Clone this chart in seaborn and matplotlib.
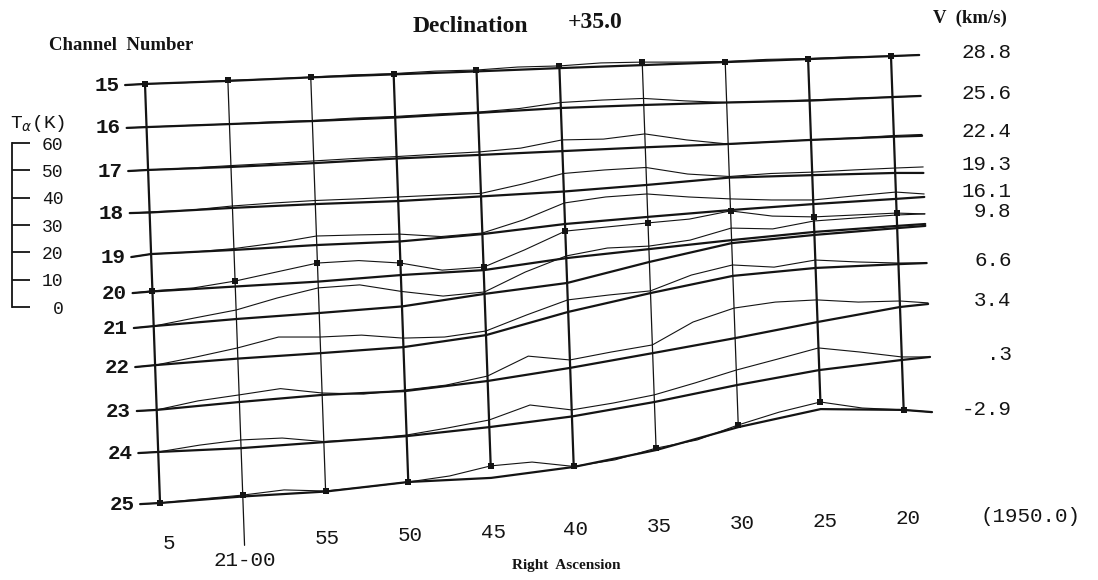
import numpy as np
import pandas as pd
import matplotlib
matplotlib.use('Agg')
import matplotlib.pyplot as plt
import seaborn as sns

# Right ascension read points (minutes after 20h; 65 = 21h05m)
ra_curve = [66.2, 65, 62.5, 60, 57.5, 55, 52.5, 50, 47.5, 45, 42.5, 40,
            37.5, 35, 32.5, 30, 27.5, 25, 22.5, 20, 18.3]
ra_base = [66.2, 65, 60, 55, 50, 45, 40, 35, 30, 25, 20, 18.3]
ra_grid = [65, 60, 55, 50, 45, 40, 35, 30, 25, 20]
ra_labels = ['5', '21-00', '55', '50', '45', '40', '35', '30', '25', '20']

channels = list(range(15, 26))
velocity_labels = ['28.8', '25.6', '22.4', '19.3', '16.1', '', '9.8', '6.6',
                   '3.4', '.3', '-2.9']
t_ticks = [0, 10, 20, 30, 40, 50, 60]

# stacked levels (K) of the baselines and of the profiles, one pair per channel
base_15 = [153.1, 153.5, 154.6, 155.9, 157.0, 158.1, 159.3, 160.4, 161.5, 162.6, 163.7, 164.1]
curve_15 = [153.1, 153.5, 154.0, 154.8, 155.3, 156.0, 156.8, 157.3, 158.2, 158.6, 159.7,
            160.1, 161.2, 161.5, 161.5, 161.7, 162.5, 162.8, 163.4, 163.7, 164.1]
base_16 = [137.4, 137.7, 138.8, 139.9, 141.2, 142.9, 144.7, 145.8, 146.7, 147.4, 148.7, 149.1]
curve_16 = [137.4, 137.7, 138.3, 138.8, 139.6, 140.1, 141.0, 141.6, 142.5, 143.2, 144.5,
            146.7, 147.6, 148.2, 147.3, 146.7, 147.1, 147.6, 148.2, 148.7, 149.1]
base_17 = [121.6, 122.0, 123.1, 124.5, 126.2, 127.5, 128.9, 130.3, 131.5, 133.0, 134.2, 134.5]
curve_17 = [121.6, 122.0, 122.7, 123.6, 124.4, 125.3, 126.2, 126.9, 127.8, 128.6, 130.0,
            133.0, 133.3, 135.2, 133.0, 131.5, 132.2, 133.0, 133.7, 134.6, 135.0]
base_18 = [106.2, 106.4, 108.1, 109.5, 110.6, 112.3, 114.1, 116.5, 119.2, 120.1, 120.9, 120.9]
curve_18 = [106.2, 106.6, 107.3, 108.8, 109.9, 110.8, 111.4, 112.1, 112.8, 113.4, 116.8,
            120.7, 122.0, 122.9, 120.5, 119.6, 120.7, 121.2, 122.0, 122.7, 123.1]
base_19 = [90.1, 91.2, 92.7, 94.5, 95.8, 98.5, 102.2, 104.8, 107.3, 109.5, 111.4, 112.1]
curve_19 = [90.1, 91.2, 91.9, 93.2, 95.2, 97.8, 98.2, 98.5, 97.6, 98.9, 103.7,
            109.9, 112.1, 113.2, 112.1, 111.4, 111.0, 111.0, 112.5, 113.9, 113.2]
base_20 = [76.9, 77.5, 79.3, 81.1, 83.5, 85.3, 89.7, 93.0, 96.3, 99.3, 101.5, 102.2]
curve_20 = [76.9, 77.7, 78.8, 81.3, 84.6, 87.9, 88.8, 87.9, 85.3, 86.4, 92.7,
            99.6, 101.1, 102.6, 104.0, 107.0, 105.1, 104.8, 105.5, 106.2, 105.9]
base_21 = [64.1, 64.8, 67.4, 69.6, 72.0, 76.6, 80.6, 88.3, 95.2, 98.2, 100.7, 101.5]
curve_21 = [64.1, 64.8, 67.8, 70.7, 75.1, 78.8, 79.9, 77.5, 75.8, 77.3, 84.6,
            90.5, 93.4, 94.1, 96.3, 100.7, 100.4, 103.3, 104.4, 105.5, 105.9]
base_22 = [49.8, 50.5, 52.9, 54.9, 57.1, 61.5, 70.0, 76.9, 83.2, 86.1, 87.5, 87.9]
curve_22 = [49.8, 50.5, 53.5, 56.8, 60.8, 60.8, 61.5, 60.4, 60.8, 63.0, 68.9,
            74.4, 76.2, 77.7, 83.5, 87.2, 86.4, 89.0, 88.3, 87.9, 87.9]
base_23 = [33.7, 34.1, 37.0, 39.6, 41.0, 44.7, 49.5, 54.9, 60.4, 66.3, 71.8, 72.9]
curve_23 = [33.7, 34.1, 37.4, 39.6, 41.9, 40.3, 39.9, 41.4, 43.2, 46.5, 53.8,
            52.4, 55.3, 57.9, 66.3, 71.4, 73.6, 74.4, 73.6, 74.0, 73.3]
base_24 = [18.3, 18.7, 20.1, 22.3, 24.5, 27.8, 31.7, 37.0, 43.2, 48.7, 52.4, 53.5]
curve_24 = [18.3, 18.7, 21.2, 23.1, 23.8, 22.5, 23.4, 24.9, 27.5, 30.4, 35.9,
            34.1, 36.6, 39.6, 44.0, 48.7, 52.7, 56.8, 55.3, 53.5, 53.5]
base_25 = [-0.4, 0.0, 2.4, 4.2, 7.7, 9.2, 13.2, 19.4, 27.8, 34.4, 34.1, 33.3]
curve_25 = [-0.4, 0.0, 1.5, 2.9, 4.8, 4.4, 5.9, 7.7, 9.9, 13.6, 15.0,
            13.4, 15.8, 20.1, 23.1, 28.6, 33.3, 37.0, 34.8, 34.1, 33.3]

bases = [base_15, base_16, base_17, base_18, base_19, base_20,
         base_21, base_22, base_23, base_24, base_25]
curves = [curve_15, curve_16, curve_17, curve_18, curve_19, curve_20,
          curve_21, curve_22, curve_23, curve_24, curve_25]

# the stack is drawn slanted: lower rows shift to the right
TOP = 153.5
SKEW = 0.0059


def slant(ra, level):
    return np.asarray(ra, dtype=float) - SKEW * (TOP - np.asarray(level, dtype=float))


rows = []
for ch, b, c in zip(channels, bases, curves):
    for r, v in zip(ra_base, b):
        rows.append(('base', ch, r, v))
    for r, v in zip(ra_curve, c):
        rows.append(('curve', ch, r, v))
df = pd.DataFrame(rows, columns=['kind', 'channel', 'ra', 'level'])
df['x'] = slant(df['ra'], df['level'])

# vertical RA lines from the top profile to the bottom profile
grid_rows = []
mark_rows = []
for r, lab in zip(ra_grid, ra_labels):
    k = ra_curve.index(r)
    top = curve_15[k]
    bottom = curve_25[k] if lab != '21-00' else -15.5
    grid_rows.append((lab, r, top))
    grid_rows.append((lab, r, bottom))
    for lvl in (curve_15[k], curve_20[k], curve_25[k]):
        mark_rows.append((r, lvl))
grid = pd.DataFrame(grid_rows, columns=['label', 'ra', 'level'])
grid['x'] = slant(grid['ra'], grid['level'])
thin = ['21-00', '55', '35', '30']
marks = pd.DataFrame(mark_rows, columns=['ra', 'level'])
marks['x'] = slant(marks['ra'], marks['level'])

sns.set_style('white')
MONO = 'Liberation Mono'
SERIF = 'Liberation Serif'
INK = '#141414'

fig = plt.figure(figsize=(10.98, 5.80), dpi=100)
ax = fig.add_axes([0, 0, 1, 1])
ax.set_axis_off()
ax.set_xlim(73.735, 7.59)
ax.set_ylim(-28.2, 184.25)

sns.lineplot(data=df[df['kind'] == 'base'], x='x', y='level', units='channel',
             estimator=None, sort=False, color=INK, linewidth=1.6, ax=ax, legend=False)
sns.lineplot(data=df[df['kind'] == 'curve'], x='x', y='level', units='channel',
             estimator=None, sort=False, color=INK, linewidth=0.8, ax=ax, legend=False)
sns.lineplot(data=grid[~grid['label'].isin(thin)], x='x', y='level', units='label',
             estimator=None, sort=False, color=INK, linewidth=1.6, ax=ax, legend=False)
sns.lineplot(data=grid[grid['label'].isin(thin)], x='x', y='level', units='label',
             estimator=None, sort=False, color=INK, linewidth=0.9, ax=ax, legend=False)
sns.scatterplot(data=marks, x='x', y='level', marker='s', s=18, color=INK,
                linewidth=0, ax=ax, legend=False)

# channel numbers on the left, velocities on the right
for ch, b, c, v in zip(channels, bases, curves, velocity_labels):
    ax.text(slant(66.55, b[0]), b[0], str(ch), ha='right', va='center',
            family=MONO, weight='bold', size=15, color=INK)
    if v:
        ax.text(12.8, c[-1] + 1.0, v, ha='right', va='center',
                family=MONO, size=15, color=INK)

# RA labels under the grid, following the slant
for r, lab in zip(ra_grid, ra_labels):
    lvl = -15.0 + 0.21 * (65 - r)
    dx = 0.0
    if lab == '21-00':
        lvl -= 7.0
    if lab == '5':
        dx = -0.45
    ax.text(float(slant(r, lvl)) + dx, lvl, lab, ha='center', va='center',
            family=MONO, size=15, color=INK)

fig.text(470 / 1098, 1 - 26 / 580, 'Declination', ha='center', va='center',
         family=SERIF, weight='bold', size=17, color=INK)
fig.text(595 / 1098, 1 - 22 / 580, '+35.0', ha='center', va='center',
         family=SERIF, weight='bold', size=17, color=INK)
fig.text(121 / 1098, 1 - 45 / 580, 'Channel  Number', ha='center', va='center',
         family=SERIF, weight='bold', size=13.5, color=INK)
fig.text(970 / 1098, 1 - 18 / 580, 'V  (km/s)', ha='center', va='center',
         family=SERIF, weight='bold', size=13.5, color=INK)
fig.text(566 / 1098, 1 - 566 / 580, 'Right  Ascension', ha='center', va='center',
         family=SERIF, weight='bold', size=11, color=INK)
fig.text(1030 / 1098, 1 - 517 / 580, '(1950.0)', ha='center', va='center',
         family=MONO, size=15, color=INK)
fig.text(10 / 1098, 1 - 124 / 580, r'T$_\alpha$(K)', ha='left', va='center',
         family=MONO, size=14, color=INK)

# antenna temperature scale bar
tax = fig.add_axes([12 / 1098, (580 - 307) / 580, 18 / 1098, 164 / 580])
tax.patch.set_alpha(0)
tax.set_ylim(0, 60)
tax.set_xticks([])
tax.set_yticks(t_ticks)
for s in ['top', 'right', 'bottom']:
    tax.spines[s].set_visible(False)
tax.spines['left'].set_linewidth(1.3)
tax.spines['left'].set_color(INK)
tax.tick_params(axis='y', direction='in', length=13, width=1.3, color=INK,
                left=True, right=False, labelleft=False, labelright=True, pad=24)
for lbl in tax.get_yticklabels():
    lbl.set_ha('right')
    lbl.set_family(MONO)
    lbl.set_fontsize(13)
    lbl.set_color(INK)

fig.savefig('out.png', dpi=100)
